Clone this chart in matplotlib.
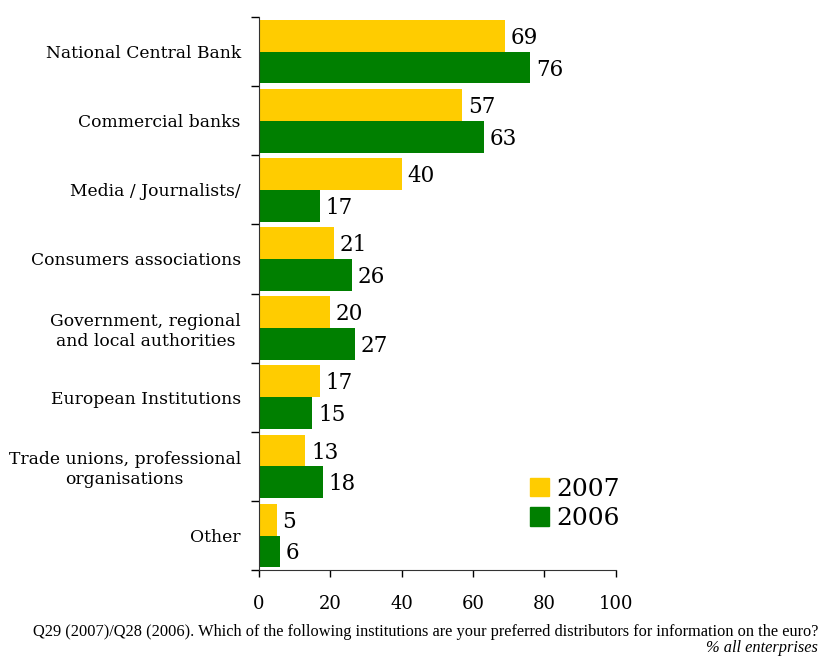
import matplotlib
matplotlib.use("Agg")
import matplotlib.pyplot as plt
import numpy as np
from matplotlib.patches import Patch

categories = [
    "National Central Bank",
    "Commercial banks",
    "Media / Journalists/",
    "Consumers associations",
    "Government, regional\nand local authorities",
    "European Institutions",
    "Trade unions, professional\norganisations",
    "Other",
]
values_2007 = [69, 57, 40, 21, 20, 17, 13, 5]
values_2006 = [76, 63, 17, 26, 27, 15, 18, 6]
series_labels = ["2007", "2006"]
x_ticks = [0, 20, 40, 60, 80, 100]

YELLOW = "#FFCC00"
GREEN = "#007F00"
FONT = "DejaVu Serif"

plt.rcParams["font.family"] = FONT

fig = plt.figure(figsize=(8.22, 6.56), dpi=100)
ax = fig.add_axes([0.315, 0.131, 0.434, 0.843])

n = len(categories)
pos = np.arange(n)
h = 0.46

bars07 = ax.barh(pos - h / 2, values_2007, height=h, color=YELLOW, label=series_labels[0])
bars06 = ax.barh(pos + h / 2, values_2006, height=h, color=GREEN, label=series_labels[1])

for bars, vals in ((bars07, values_2007), (bars06, values_2006)):
    for b, v in zip(bars, vals):
        ax.text(b.get_width() + 1.6, b.get_y() + b.get_height() / 2 + 0.03, str(v),
                va="center", ha="left", fontsize=15.5, color="black")

ax.set_xlim(0, 100)
ax.set_ylim(n - 0.5, -0.5)
ax.set_xticks(x_ticks)
ax.set_xticklabels([str(t) for t in x_ticks], fontsize=13)

# category names sit at the group centres, tick marks at the boundaries
ax.set_yticks(np.arange(-0.5, n, 1.0))
ax.set_yticklabels([])
ax.set_yticks(pos, minor=True)
ax.set_yticklabels(categories, minor=True, fontsize=12.3, multialignment="center")
ax.tick_params(axis="y", which="minor", length=0, pad=13)
ax.tick_params(axis="y", which="major", length=6, width=1, direction="out")
ax.tick_params(axis="x", length=5, width=1, direction="out", pad=13)

for s in ("top", "right"):
    ax.spines[s].set_visible(False)
ax.spines["left"].set_color("#333333")
ax.spines["bottom"].set_color("#333333")

handles = [Patch(color=YELLOW), Patch(color=GREEN)]
ax.legend(handles, series_labels, loc="lower left", bbox_to_anchor=(0.76, 0.072),
          frameon=False, fontsize=18, handlelength=0.75, handleheight=0.75,
          handletextpad=0.3, labelspacing=0.25, borderpad=0, borderaxespad=0)

fig.text(0.995, 0.037, "Q29 (2007)/Q28 (2006). Which of the following institutions are your "
         "preferred distributors for information on the euro?",
         ha="right", va="center", fontsize=11.8, family="Liberation Serif")
fig.text(0.995, 0.012, "% all enterprises", ha="right", va="center", fontsize=11.8,
         style="italic", family="Liberation Serif")

fig.savefig("out.png", dpi=100)
